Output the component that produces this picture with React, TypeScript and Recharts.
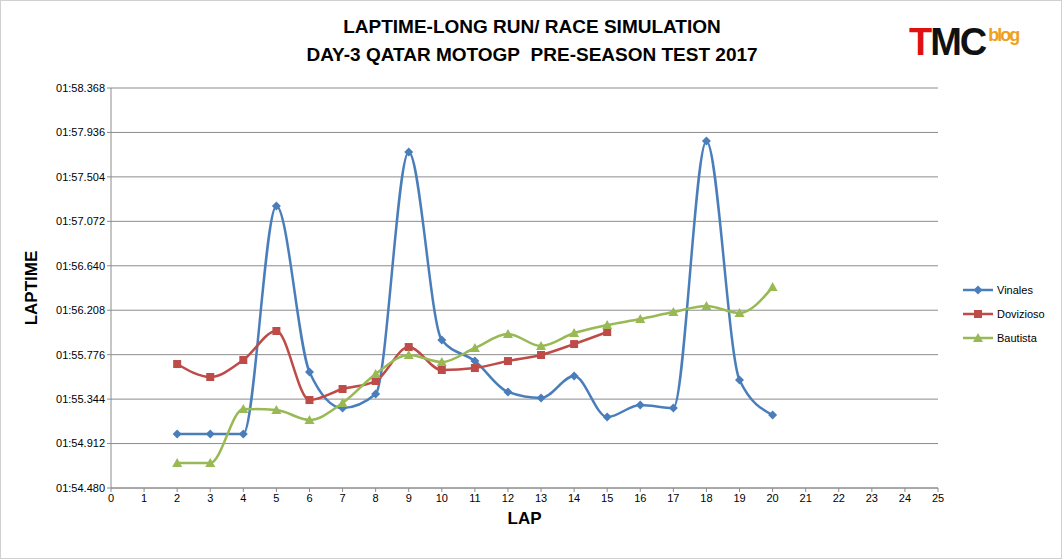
import React from "react";
import { LineChart, Line, XAxis, YAxis, CartesianGrid, Label } from "recharts";

const laps = [2, 3, 4, 5, 6, 7, 8, 9, 10, 11, 12, 13, 14, 15, 16, 17, 18, 19, 20];
const vinales = [55.005, 55.005, 55.005, 57.221, 55.607, 55.257, 55.393, 57.745, 55.918, 55.714, 55.413, 55.355, 55.568, 55.17, 55.287, 55.257, 57.852, 55.53, 55.189];
const dovizioso = [55.685, 55.559, 55.724, 56.006, 55.335, 55.442, 55.52, 55.85, 55.627, 55.646, 55.714, 55.773, 55.879, 55.996];
const bautista = [54.723, 54.723, 55.248, 55.238, 55.141, 55.306, 55.588, 55.773, 55.704, 55.841, 55.977, 55.86, 55.986, 56.064, 56.122, 56.19, 56.249, 56.181, 56.433];
const yTicks = [54.48, 54.912, 55.344, 55.776, 56.208, 56.64, 57.072, 57.504, 57.936, 58.368];
const xTicks = Array.from({ length: 26 }, (_, i) => i);

const data = laps.map((lap, i) => ({
  lap,
  Vinales: vinales[i],
  Dovizioso: dovizioso[i],
  Bautista: bautista[i],
}));

const series = [
  { key: "Vinales", color: "#4A7EBB", shape: "diamond" },
  { key: "Dovizioso", color: "#BE4B48", shape: "square" },
  { key: "Bautista", color: "#98B954", shape: "triangle" },
];

const Marker = ({ cx, cy, shape, color }: any) => {
  if (cx == null || cy == null) return null;
  if (shape === "diamond")
    return <polygon points={`${cx},${cy - 4.5} ${cx + 4.5},${cy} ${cx},${cy + 4.5} ${cx - 4.5},${cy}`} fill={color} />;
  if (shape === "square") return <rect x={cx - 4} y={cy - 4} width={8} height={8} fill={color} />;
  return <polygon points={`${cx},${cy - 5} ${cx + 5},${cy + 4} ${cx - 5},${cy + 4}`} fill={color} />;
};

const fmt = (v: number) => `01:${v.toFixed(3)}`;
const font = "'Liberation Sans', Arial, sans-serif";

export default function App() {
  return (
    <div style={{ position: "absolute", left: 0, top: 0, width: 1062, height: 559, background: "#fff", fontFamily: font, boxSizing: "border-box", border: "1px solid #d0d0d0" }}>
      <div style={{ position: "absolute", left: 0, width: 1062, top: 12, textAlign: "center", fontWeight: "bold", fontSize: 19, lineHeight: "28px", color: "#000" }}>
        LAPTIME-LONG RUN/ RACE SIMULATION<br />DAY-3 QATAR MOTOGP&nbsp; PRE-SEASON TEST 2017
      </div>
      <div style={{ position: "absolute", left: 908, top: 20, fontSize: 38, fontWeight: "bold", letterSpacing: -2 }}>
        <span style={{ color: "#e01010" }}>T</span><span style={{ color: "#111" }}>MC</span>
        <span style={{ color: "#f0a020", fontSize: 18, position: "relative", top: -14, marginLeft: 3 }}>blog</span>
      </div>
      <LineChart width={1062} height={559} data={data} margin={{ top: 87, right: 125, bottom: 32, left: 30 }}>
        <CartesianGrid vertical={false} stroke="#8c8c8c" strokeWidth={1} />
        <XAxis dataKey="lap" type="number" domain={[0, 25]} ticks={xTicks} interval={0} stroke="#8c8c8c" tick={{ fill: "#000", fontSize: 11 }} tickSize={4} height={40}>
          <Label value="LAP" position="insideBottom" offset={4} style={{ fontWeight: "bold", fontSize: 17, fill: "#000" }} />
        </XAxis>
        <YAxis type="number" domain={[54.48, 58.368]} ticks={yTicks} tickFormatter={fmt} stroke="#8c8c8c" tick={{ fill: "#000", fontSize: 11 }} tickSize={4} width={80} interval={0}>
          <Label value="LAPTIME" angle={-90} position="insideLeft" offset={0} style={{ fontWeight: "bold", fontSize: 17, fill: "#000", textAnchor: "middle" }} />
        </YAxis>
        {series.map((s) => (
          <Line key={s.key} dataKey={s.key} type="monotone" stroke={s.color} strokeWidth={2.5} isAnimationActive={false}
            dot={(p: any) => <Marker key={`${s.key}-${p.index}`} cx={p.cx} cy={p.cy} shape={s.shape} color={s.color} />} activeDot={false} />
        ))}
      </LineChart>
      <div style={{ position: "absolute", left: 962, top: 277, fontSize: 11 }}>
        {series.map((s) => (
          <div key={s.key} style={{ display: "flex", alignItems: "center", height: 24 }}>
            <svg width={30} height={10}>
              <line x1={0} y1={5} x2={30} y2={5} stroke={s.color} strokeWidth={2.5} />
              <Marker cx={15} cy={5} shape={s.shape} color={s.color} />
            </svg>
            <span style={{ marginLeft: 4 }}>{s.key}</span>
          </div>
        ))}
      </div>
    </div>
  );
}
